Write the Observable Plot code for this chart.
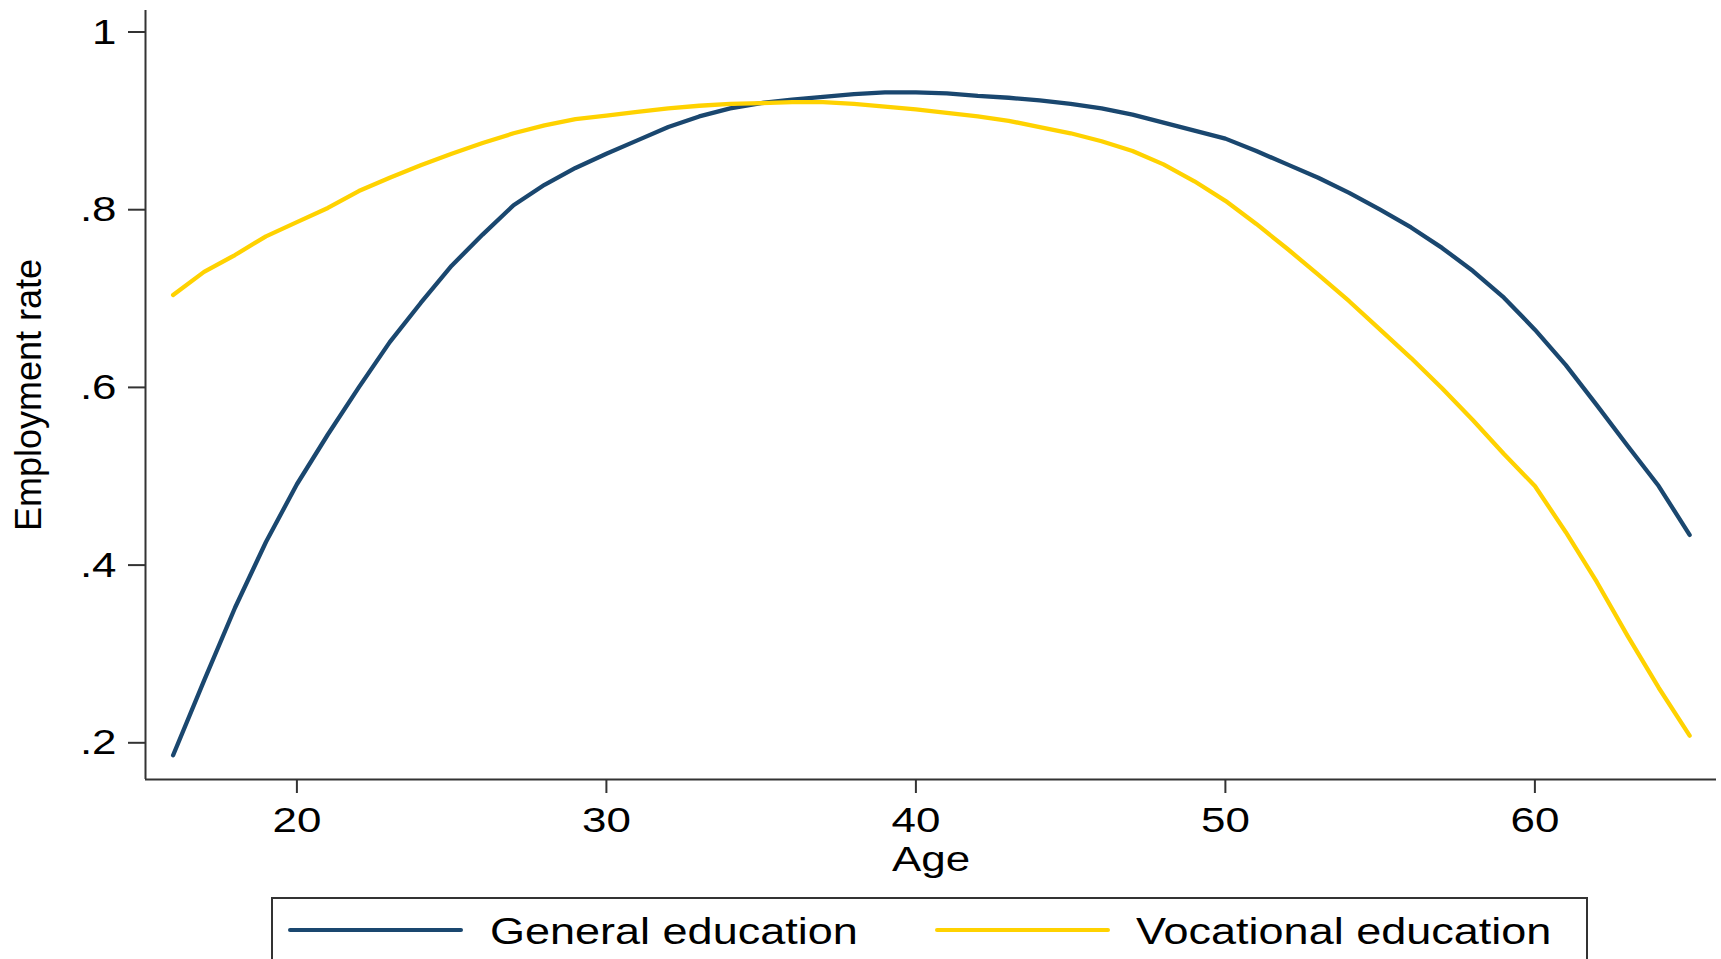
<!DOCTYPE html>
<html>
<head>
<meta charset="utf-8">
<script src="https://cdn.jsdelivr.net/npm/d3@7"></script>
<script src="https://cdn.jsdelivr.net/npm/@observablehq/plot@0.6"></script>
<style>
  html, body { margin: 0; padding: 0; background: #fff; overflow: hidden; width: 1721px; height: 959px; }
  svg { display: block; }
  #legend {
    position: relative; box-sizing: border-box;
    margin-left: 271px; margin-top: 17px; width: 1317px; height: 100px;
    border: 2px solid #333; background: #fff;
    font-family: "Liberation Sans", Arial, sans-serif; color: #000;
  }
  #legend .swatch { position: absolute; top: 29px; width: 175px; height: 4px; border-radius: 2px; }
  #legend .lab { position: absolute; top: 14px; font-size: 37.5px; line-height: 37.5px; white-space: nowrap;
    transform: scaleX(1.2); transform-origin: left center; }
</style>
</head>
<body>
<div id="chart"></div>
<div id="legend">
  <div class="swatch" style="left:15px;background:#1a476f"></div>
  <div class="lab" style="left:217px">General education</div>
  <div class="swatch" style="left:662px;background:#ffd200"></div>
  <div class="lab" style="left:863px">Vocational education</div>
</div>
<script>
// Data
const ages = [16,17,18,19,20,21,22,23,24,25,26,27,28,29,30,31,32,33,34,35,36,37,38,39,40,
              41,42,43,44,45,46,47,48,49,50,51,52,53,54,55,56,57,58,59,60,61,62,63,64,65];
const generalEducation = [0.186,0.270,0.352,0.426,0.491,0.547,0.600,0.651,0.695,0.737,
  0.772,0.805,0.828,0.847,0.863,0.878,0.893,0.905,0.914,0.920,
  0.924,0.927,0.930,0.932,0.932,0.931,0.928,0.926,0.923,0.919,
  0.914,0.907,0.898,0.889,0.880,0.866,0.851,0.836,0.819,0.800,
  0.780,0.757,0.731,0.701,0.665,0.625,0.580,0.534,0.489,0.434];
const vocationalEducation = [0.704,0.730,0.749,0.770,0.786,0.802,0.821,0.836,0.850,0.863,
  0.875,0.886,0.895,0.902,0.906,0.910,0.914,0.917,0.919,0.920,
  0.921,0.921,0.919,0.916,0.913,0.909,0.905,0.900,0.893,0.886,
  0.877,0.866,0.851,0.832,0.810,0.784,0.756,0.727,0.697,0.665,
  0.633,0.599,0.563,0.525,0.489,0.437,0.381,0.320,0.262,0.208];
const xTicks = [20,30,40,50,60];
const yTicks = [0.2,0.4,0.6,0.8,1];
const xDomain = [15.108, 65.868];
const yDomain = [0.1587, 1.0242];

const genData = ages.map((a, i) => ({age: a, rate: generalEducation[i]}));
const vocData = ages.map((a, i) => ({age: a, rate: vocationalEducation[i]}));

const navy = "#1a476f", gold = "#ffd200", axisColor = "#333";

const chart = Plot.plot({
  width: 1721,
  height: 880,
  marginLeft: 145,
  marginRight: 5,
  marginTop: 10,
  marginBottom: 101,
  style: {fontFamily: "'Liberation Sans', Arial, sans-serif", fontSize: "36px", color: "#000", background: "#fff"},
  x: {domain: xDomain},
  y: {domain: yDomain},
  marks: [
    Plot.ruleX([xDomain[0]], {stroke: axisColor, strokeWidth: 2}),
    Plot.ruleY([yDomain[0]], {stroke: axisColor, strokeWidth: 2}),
    Plot.axisX({ticks: xTicks, tickSize: 14, tickPadding: 13, stroke: axisColor, strokeWidth: 2,
      fontSize: 36, tickFormat: d => String(d),
      label: "Age", labelAnchor: "center", labelOffset: 91, labelArrow: "none"}),
    Plot.axisY({ticks: yTicks, tickSize: 17, tickPadding: 12, stroke: axisColor, strokeWidth: 2,
      fontSize: 36, tickFormat: d => d === 1 ? "1" : d.toFixed(1).replace(/^0/, ""),
      label: "Employment rate", labelAnchor: "center", labelOffset: 130, labelArrow: "none"}),
    Plot.line(genData, {x: "age", y: "rate", stroke: navy, strokeWidth: 4.3}),
    Plot.line(vocData, {x: "age", y: "rate", stroke: gold, strokeWidth: 4.3})
  ]
});

// widen horizontal text to match the reference's stretched glyphs
chart.querySelectorAll('g[aria-label="x-axis tick label"] text, g[aria-label="y-axis tick label"] text, g[aria-label="x-axis label"] text')
  .forEach(t => {
    const tr = t.getAttribute("transform") || "";
    t.setAttribute("transform", tr + " scale(1.22,1)");
  });

document.getElementById("chart").appendChild(chart);
</script>
</body>
</html>
